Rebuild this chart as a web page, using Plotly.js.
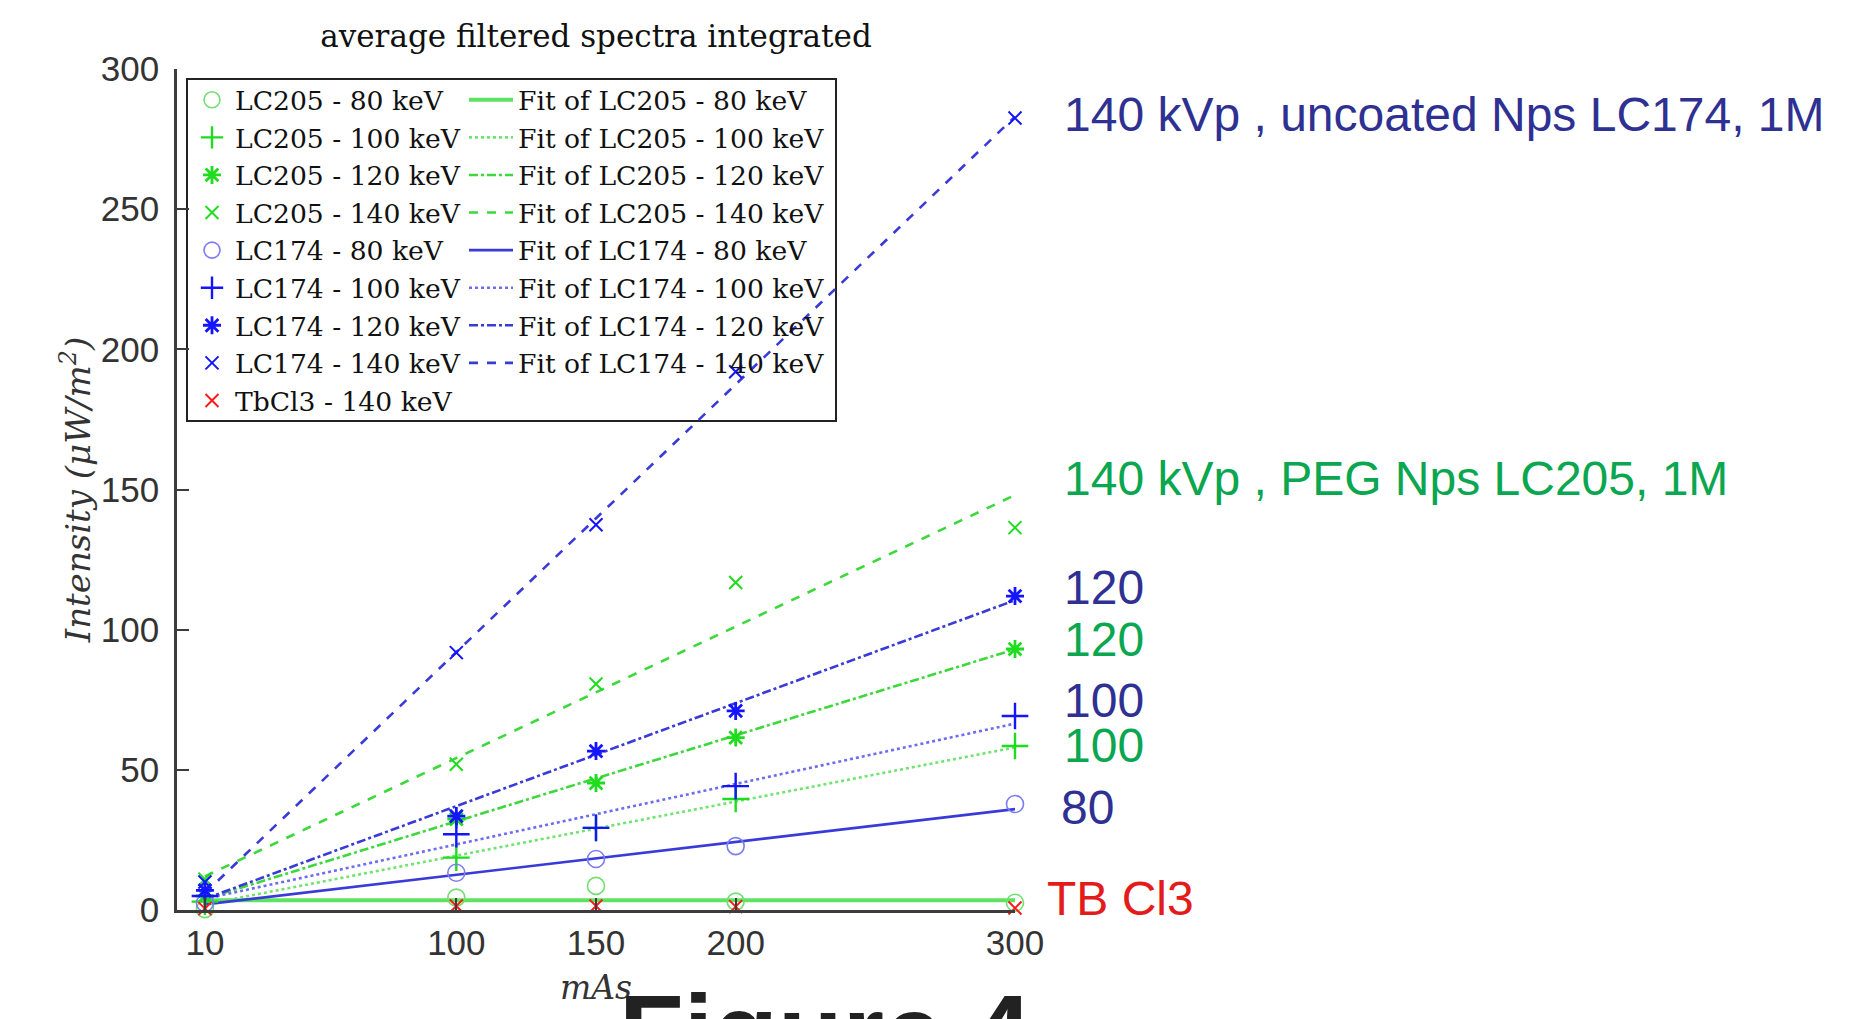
<!DOCTYPE html>
<html>
<head>
<meta charset="utf-8">
<script src="https://cdn.plot.ly/plotly-3.0.1.min.js"></script>
<style>
  html, body { margin: 0; padding: 0; background: #ffffff; }
  #chart { width: 1872px; height: 1019px; }
</style>
</head>
<body>
<div id="chart"></div>
<script>
// ---------------- data ----------------
const mAs = [10, 100, 150, 200, 300];
const xTicks = [10, 100, 150, 200, 300];
const yTicks = [0, 50, 100, 150, 200, 250, 300];

const lc205_80  = [0.3, 4.4, 8.6, 3.0, 2.6];
const lc205_100 = [3.0, 18.7, 29.3, 39.6, 58.5];
const lc205_120 = [5.0, 32.4, 45.3, 61.5, 93.1];
const lc205_140 = [11.0, 52.0, 80.6, 116.8, 136.4];
const lc174_80  = [2.5, 13.3, 18.2, 22.8, 37.8];
const lc174_100 = [5.0, 27.0, 29.3, 44.2, 69.2];
const lc174_120 = [7.0, 33.5, 56.7, 71.0, 112.0];
const lc174_140 = [10.0, 91.8, 137.4, 192.0, 282.5];
const tbcl3_140 = [0.5, 1.4, 1.4, 1.2, 0.7];

// linear fits: values at the first and last mAs
const fitX = [10, 300];
const fit205_80  = [3.5, 3.5];
const fit205_100 = [2.0, 58.0];
const fit205_120 = [4.0, 93.0];
const fit205_140 = [12.0, 148.0];
const fit174_80  = [2.0, 36.0];
const fit174_100 = [4.0, 66.5];
const fit174_120 = [4.0, 110.5];
const fit174_140 = [6.0, 283.0];

const dataNames = ['LC205 - 80 keV', 'LC205 - 100 keV', 'LC205 - 120 keV', 'LC205 - 140 keV',
                   'LC174 - 80 keV', 'LC174 - 100 keV', 'LC174 - 120 keV', 'LC174 - 140 keV',
                   'TbCl3 - 140 keV'];
const fitNames = ['Fit of LC205 - 80 keV', 'Fit of LC205 - 100 keV', 'Fit of LC205 - 120 keV', 'Fit of LC205 - 140 keV',
                  'Fit of LC174 - 80 keV', 'Fit of LC174 - 100 keV', 'Fit of LC174 - 120 keV', 'Fit of LC174 - 140 keV'];

const sideLabels = ['140 kVp , uncoated Nps LC174, 1M', '140 kVp , PEG Nps LC205, 1M',
                    '120', '120', '100', '100', '80', 'TB Cl3'];

// ---------------- styling ----------------
const GREEN = '#1fdc1f', GREEN_L = '#70e070', BLUE = '#1414ff', BLUE_L = '#7c7cf2', RED = '#ff1a1a';
const FIT_G = '#3cd83c', FIT_B = '#3a3ad8';
const TXT_BLUE = '#2e3192', TXT_GREEN = '#0aa650', TXT_RED = '#e31b1b';

const W = 1872, H = 1019;
const M = {l: 177, r: 857, t: 69, b: 109};
const PW = W - M.l - M.r, PH = H - M.t - M.b;
const px = v => (v - M.l) / PW;          // pixel x -> paper
const py = v => (H - M.b - v) / PH;      // pixel y -> paper

const dataSeries = [lc205_80, lc205_100, lc205_120, lc205_140, lc174_80, lc174_100, lc174_120, lc174_140, tbcl3_140];
const dataStyle = [
  {symbol: 'circle-open',      size: 17, color: GREEN_L, lw: 1.6},
  {symbol: 'cross-thin-open',  size: 19, color: GREEN,   lw: 2.4},
  {symbol: 'asterisk-open',    size: 15, color: GREEN,   lw: 2.8},
  {symbol: 'x-thin-open',      size: 13, color: GREEN,   lw: 2.0},
  {symbol: 'circle-open',      size: 17, color: BLUE_L,  lw: 1.6},
  {symbol: 'cross-thin-open',  size: 19, color: BLUE,    lw: 2.4},
  {symbol: 'asterisk-open',    size: 15, color: BLUE,    lw: 2.8},
  {symbol: 'x-thin-open',      size: 13, color: BLUE,    lw: 2.0},
  {symbol: 'x-thin-open',      size: 13, color: RED,     lw: 2.0}
];
const fitSeries = [fit205_80, fit205_100, fit205_120, fit205_140, fit174_80, fit174_100, fit174_120, fit174_140];
const fitStyle = [
  {dash: 'solid',   color: '#5fe25f', width: 4},
  {dash: 'dot',     color: '#6fe46f', width: 2.6},
  {dash: 'dashdot', color: FIT_G,     width: 2.6},
  {dash: 'dash',    color: FIT_G,     width: 2.6},
  {dash: 'solid',   color: FIT_B,     width: 2.6},
  {dash: 'dot',     color: '#6d6df0', width: 2.6},
  {dash: 'dashdot', color: FIT_B,     width: 2.6},
  {dash: 'dash',    color: FIT_B,     width: 2.6}
];

const traces = [];
fitSeries.forEach((ys, i) => {
  traces.push({
    type: 'scatter', mode: 'lines', x: fitX, y: ys, name: fitNames[i],
    legend: 'legend2',
    line: {color: fitStyle[i].color, width: fitStyle[i].width, dash: fitStyle[i].dash},
    hoverinfo: 'skip'
  });
});
dataSeries.forEach((ys, i) => {
  const s = dataStyle[i];
  traces.push({
    type: 'scatter', mode: 'markers', x: mAs, y: ys, name: dataNames[i],
    legend: 'legend',
    marker: {symbol: s.symbol, size: s.size, color: s.color, line: {color: s.color, width: s.lw}},
    cliponaxis: false
  });
});

const sidePos = [
  {x: 1062, y: 115, c: TXT_BLUE},
  {x: 1062, y: 478, c: TXT_GREEN},
  {x: 1062, y: 587, c: TXT_BLUE},
  {x: 1062, y: 639, c: TXT_GREEN},
  {x: 1062, y: 700, c: TXT_BLUE},
  {x: 1062, y: 745, c: TXT_GREEN},
  {x: 1059, y: 807, c: TXT_BLUE},
  {x: 1045, y: 898, c: TXT_RED}
];
const annotations = sideLabels.map((t, i) => ({
  text: t, xref: 'paper', yref: 'paper', x: px(sidePos[i].x), y: py(sidePos[i].y),
  xanchor: 'left', yanchor: 'middle', showarrow: false,
  font: {family: 'Liberation Sans, Arial, sans-serif', size: 48, color: sidePos[i].c}
}));
annotations.push({
  text: '<b>Figure 4</b>', xref: 'paper', yref: 'paper', x: px(617), y: py(971),
  xanchor: 'left', yanchor: 'top', showarrow: false,
  font: {family: 'Liberation Sans, Arial, sans-serif', size: 106, color: '#222222'}
});

const axisCommon = {
  showgrid: false, zeroline: false, showline: true, linecolor: '#3c3c3c', linewidth: 2.5,
  ticks: 'inside', ticklen: 12, tickwidth: 2, tickcolor: '#3c3c3c', mirror: false,
  tickfont: {family: 'Liberation Sans, Arial, sans-serif', size: 35, color: '#333333'}
};

const layout = {
  width: W, height: H,
  margin: M,
  paper_bgcolor: '#ffffff', plot_bgcolor: '#ffffff',
  showlegend: true,
  title: {
    text: 'average filtered spectra integrated',
    x: 0.5, xref: 'paper', y: 1 - 36 / H, yref: 'container', yanchor: 'middle',
    font: {family: 'DejaVu Serif, serif', size: 31, color: '#111111'}
  },
  xaxis: Object.assign({}, axisCommon, {
    range: [0, 300], tickmode: 'array', tickvals: xTicks, ticktext: xTicks.map(String),
    ticklabelstandoff: 0,
    title: {text: 'mAs', standoff: 16,
            font: {family: 'DejaVu Serif, serif', size: 33, style: 'italic', color: '#333333'}}
  }),
  yaxis: Object.assign({}, axisCommon, {
    range: [0, 300], tickmode: 'array', tickvals: yTicks, ticktext: yTicks.map(String),
    ticklabelstandoff: 8,
    title: {text: 'Intensity (μW/m<sup>2</sup>)', standoff: 0,
            font: {family: 'DejaVu Serif, serif', size: 34, style: 'italic', color: '#333333'}}
  }),
  legend: {
    x: px(189), y: py(76), xanchor: 'left', yanchor: 'top', xref: 'paper', yref: 'paper',
    bgcolor: 'rgba(0,0,0,0)', borderwidth: 0, itemwidth: 36,
    font: {family: 'DejaVu Serif, serif', size: 26.6, color: '#111111'}
  },
  legend2: {
    x: px(464), y: py(76), xanchor: 'left', yanchor: 'top', xref: 'paper', yref: 'paper',
    bgcolor: 'rgba(0,0,0,0)', borderwidth: 0, itemwidth: 44,
    font: {family: 'DejaVu Serif, serif', size: 26.6, color: '#111111'}
  },
  shapes: [{
    type: 'rect', xref: 'paper', yref: 'paper',
    x0: px(187), x1: px(836), y0: py(421), y1: py(79),
    line: {color: '#222222', width: 2}, fillcolor: 'rgba(255,255,255,0.85)', layer: 'below'
  }],
  annotations: annotations
};

Plotly.newPlot('chart', traces, layout, {displayModeBar: false, responsive: false});
</script>
</body>
</html>
